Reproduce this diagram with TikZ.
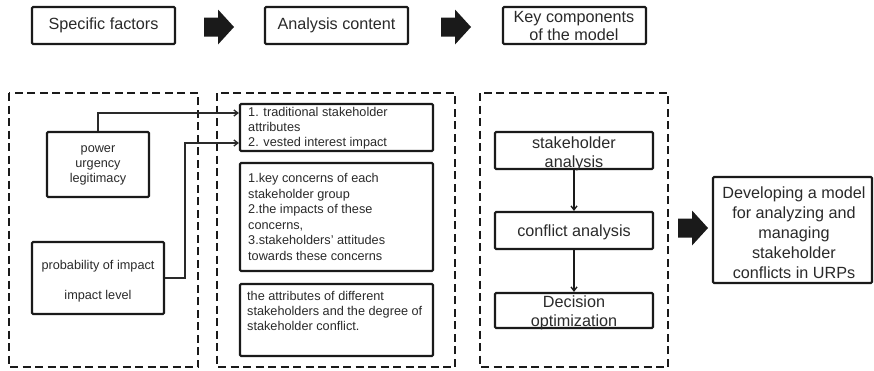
\documentclass[tikz,border=0pt]{standalone}
\usepackage{fontspec}
\setmainfont{Liberation Sans}
\usetikzlibrary{arrows.meta}
\definecolor{ink}{HTML}{2A2A2A}
\definecolor{edge}{HTML}{1A1A1A}
\begin{document}
\begin{tikzpicture}[x=1pt,y=-1pt,
  box/.style={draw=edge, line width=2.1pt, rounded corners=1.2pt, fill=white, inner sep=0pt},
  bigfont/.style={font=\fontsize{16.2}{19.5}\selectfont},
  smallfont/.style={font=\fontsize{12.7}{15.2}\selectfont},
  txt/.style={text=ink, inner sep=0pt},
  frame/.style={draw=edge, line width=2.6pt, dash pattern=on 8pt off 4.5pt},
  link/.style={draw=ink, line width=1.3pt, -{Straight Barb[length=4pt,width=6pt]}},
  flow/.style={draw=edge, line width=1.3pt, -{Straight Barb[length=4pt,width=6pt]}},
  blockarrow/.pic={\fill[edge] (0,-9.5) -- (14,-9.5) -- (14,-17.5) -- (30,0)
                   -- (14,17.5) -- (14,9.5) -- (0,9.5) -- cycle;}
]
\useasboundingbox (0,0) rectangle (874,370);

% column headers
\node[box, minimum width=143pt, minimum height=37pt] (sf) at (103.5,25.5) {};
\node[txt, bigfont] (sft) at (sf) {Specific factors};
\node[box, minimum width=143pt, minimum height=37pt] (ac) at (336.5,25.5) {};
\node[txt, bigfont] (act) at (ac) {Analysis content};
\node[box, minimum width=143pt, minimum height=37pt] (kc) at (574.5,25.5) {};
\node[txt, bigfont, align=center, font=\fontsize{16.2}{18}\selectfont] (kct) at (574,26.5) {Key components\\of the model};
\pic at (204,27) {blockarrow};
\pic at (441,27) {blockarrow};

% dashed groups
\draw[frame] (9,93) rectangle (198,367);
\draw[frame] (217,93) rectangle (455,367);
\draw[frame] (480,93) rectangle (668,367);

% specific factors
\node[box, minimum width=102pt, minimum height=65pt] (pw) at (98,164.5) {};
\node[txt, smallfont, align=center] (pwt) at (98,165.5) {power\\urgency\\legitimacy};
\node[box, minimum width=132pt, minimum height=72pt] (pr) at (98,278) {};
\node[txt, smallfont, align=center] (prt) at (98,281) {probability of impact\\[15pt]impact level};

% analysis content
\node[box, minimum width=193pt, minimum height=47pt] (b1) at (336.5,127.5) {};
\node[txt, smallfont, align=left, anchor=west] (b1t) at (248,128.5)
  {1. traditional stakeholder\\attributes\\2. vested interest impact};
\node[box, minimum width=193pt, minimum height=108pt] (b2) at (336.5,217) {};
\node[txt, smallfont, align=left, anchor=west, font=\fontsize{12.7}{15.6}\selectfont] (b2t) at (248,217)
  {1.key concerns of each\\stakeholder group\\2.the impacts of these\\concerns,\\3.stakeholders' attitudes\\towards these concerns};
\node[box, minimum width=193pt, minimum height=72pt] (b3) at (336.5,320) {};
\node[txt, smallfont, align=left, anchor=west] (b3t) at (247,311)
  {the attributes of different\\stakeholders and the degree of\\stakeholder conflict.};

% key components
\node[box, minimum width=158pt, minimum height=37pt] (sa) at (574,150.5) {};
\node[txt, bigfont, align=center] (sat) at (574,154) {stakeholder\\analysis};
\node[box, minimum width=158pt, minimum height=37pt] (ca) at (574,230.5) {};
\node[txt, bigfont] (cat) at (574,232) {conflict analysis};
\node[box, minimum width=158pt, minimum height=35pt] (do) at (574,310.5) {};
\node[txt, bigfont, align=center] (dot) at (574,313) {Decision\\optimization};

% outcome
\pic at (678,228) {blockarrow};
\node[box, minimum width=159pt, minimum height=106pt] (dm) at (792.5,230) {};
\node[txt, bigfont, align=center, font=\fontsize{16.2}{20}\selectfont] (dmt) at (794,233)
  {Developing a model\\for analyzing and\\managing\\stakeholder\\conflicts in URPs};

% connectors
\coordinate (in1) at ([yshift=14.5pt]b1.west);
\coordinate (in2) at ([yshift=-15.5pt]b1.west);
\draw[link] (pw.north) |- (in1);
\draw[link] (pr.east) -- ++(20,0) |- (in2);
\draw[flow] (sa.south) -- (ca.north);
\draw[flow] (ca.south) -- (do.north);
\end{tikzpicture}
\end{document}
